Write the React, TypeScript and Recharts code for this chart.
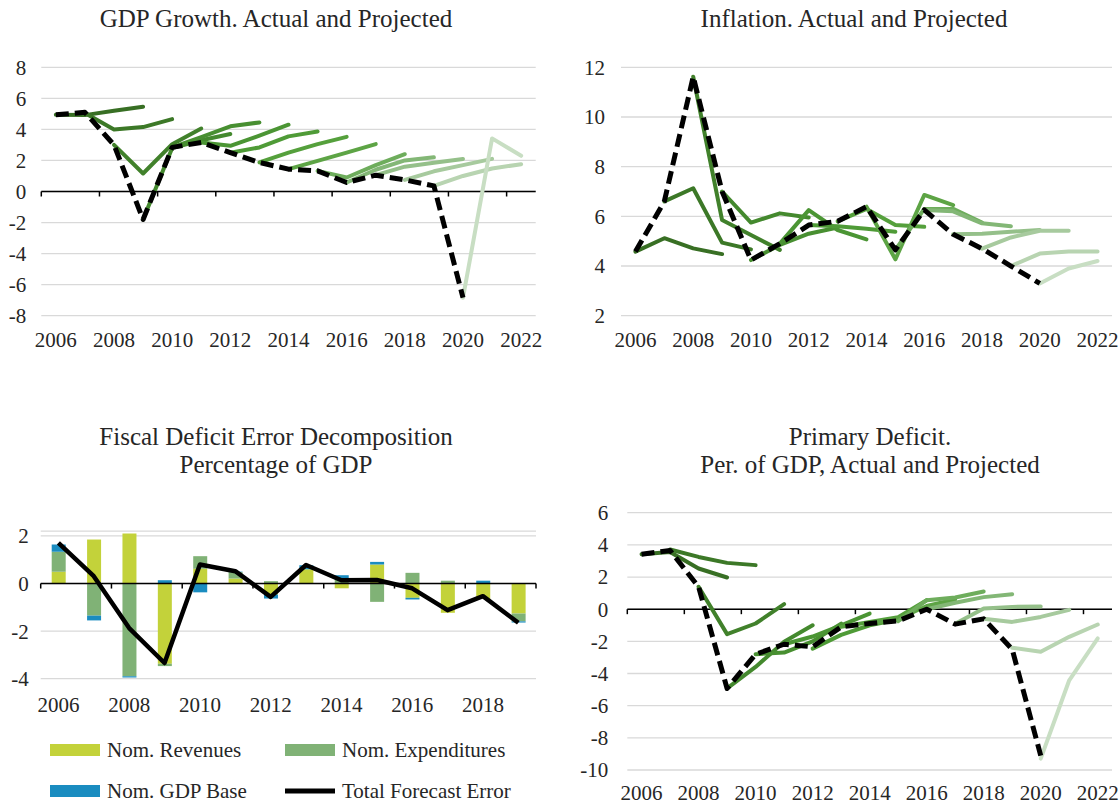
import React from 'react';
import { LineChart, Line, XAxis, YAxis, CartesianGrid, ReferenceLine, ComposedChart, Bar } from 'recharts';

// ---------- DATA ----------
const years = [2006, 2007, 2008, 2009, 2010, 2011, 2012, 2013, 2014, 2015, 2016, 2017, 2018, 2019, 2020, 2021, 2022];
const xLabelYears = [2006, 2008, 2010, 2012, 2014, 2016, 2018, 2020, 2022];

// GDP growth: actual (2006-2020) and projections; projection k starts in years[k]
const gdpActual = [4.94, 5.1, 3.0, -1.8, 2.84, 3.16, 2.5, 1.87, 1.44, 1.33, 0.58, 1.05, 0.75, 0.36, -6.84];
const gdpProjections = [
  [4.94, 4.92, 5.2, 5.46],
  [5.05, 4.0, 4.15, 4.66],
  [3.0, 1.16, 3.05, 4.06],
  [-1.8, 2.8, 3.3, 3.7],
  [2.84, 3.5, 4.2, 4.45],
  [3.16, 2.94, 3.6, 4.3],
  [2.5, 2.84, 3.55, 3.87],
  [1.87, 2.5, 3.05, 3.52],
  [1.44, 1.97, 2.5, 3.05],
  [1.33, 0.9, 1.7, 2.4],
  [0.58, 1.4, 2.0, 2.2],
  [1.05, 1.6, 1.85, 2.1],
  [0.75, 1.3, 1.7, 2.1],
  [0.36, 1.0, 1.48, 1.76],
  [-6.84, 3.42, 2.3],
];
const gdpYTicks = [-8, -6, -4, -2, 0, 2, 4, 6, 8];

// Inflation
const inflationActual = [4.58, 6.6, 11.62, 7.0, 4.24, 4.9, 5.65, 5.8, 6.39, 4.65, 6.26, 5.28, 4.7, 4.0, 3.3];
const inflationProjections = [
  [4.58, 5.12, 4.71, 4.48],
  [6.6, 7.13, 4.94, 4.67],
  [11.62, 5.85, 5.25, 4.65],
  [7.0, 5.75, 6.12, 5.95],
  [4.24, 4.85, 5.3, 5.55],
  [4.9, 6.25, 5.45, 5.07],
  [5.65, 5.6, 5.5, 5.38],
  [5.8, 6.3, 5.65, 5.58],
  [6.39, 4.27, 6.86, 6.45],
  [4.65, 6.3, 6.3, 5.75],
  [6.26, 6.2, 5.72, 5.6],
  [5.28, 5.3, 5.38, 5.45],
  [4.7, 5.15, 5.42, 5.42],
  [4.0, 4.5, 4.58, 4.58],
  [3.3, 3.9, 4.2],
];
const inflationYTicks = [2, 4, 6, 8, 10, 12];

// Primary deficit
const primaryActual = [3.42, 3.65, 1.39, -4.93, -2.8, -2.18, -2.34, -1.1, -0.89, -0.73, 0.0, -0.93, -0.6, -2.5, -9.1];
const primaryProjections = [
  [3.42, 3.56, 2.53, 1.97],
  [3.71, 3.25, 2.88, 2.74],
  [1.39, -1.55, -0.89, 0.31],
  [-4.93, -3.59, -2.03, -1.0],
  [-2.8, -2.7, -2.0, -0.9],
  [-2.18, -1.7, -1.0, -0.27],
  [-2.45, -1.6, -1.0, -0.65],
  [-1.1, -0.8, -0.5, 0.56],
  [-0.89, -0.6, 0.2, 0.6],
  [-0.75, 0.56, 0.73, 1.1],
  [0.0, 0.4, 0.75, 0.93],
  [-0.9, 0.04, 0.14, 0.17],
  [-0.6, -0.79, -0.48, -0.04],
  [-2.4, -2.65, -1.72, -0.95],
  [-9.29, -4.42, -1.82],
];
const primaryYTicks = [-10, -8, -6, -4, -2, 0, 2, 4, 6];

// Fiscal deficit error decomposition
const fiscalYears = [2006, 2007, 2008, 2009, 2010, 2011, 2012, 2013, 2014, 2015, 2016, 2017, 2018, 2019];
const nomRevenues = [0.5, 1.85, 2.1, -3.37, 0.62, 0.21, -0.46, 0.6, -0.2, 0.8, -0.6, -1.23, -0.65, -1.26];
const nomExpenditures = [0.84, -1.35, -3.9, -0.1, 0.53, 0.27, 0.1, 0.0, 0.15, -0.77, 0.45, 0.12, 0.0, -0.33];
const nomGdpBase = [0.3, -0.2, -0.05, 0.14, -0.37, 0.02, -0.17, 0.17, 0.2, 0.11, -0.07, 0.0, 0.12, -0.05];
const totalForecastError = [1.71, 0.31, -1.87, -3.34, 0.8, 0.52, -0.56, 0.78, 0.14, 0.15, -0.2, -1.12, -0.53, -1.65];
const fiscalYTicks = [-4, -2, 0, 2];
const fiscalLegend = ['Nom. Revenues', 'Nom. Expenditures', 'Nom. GDP Base', 'Total Forecast Error'];

// ---------- STYLE ----------
const FONT = '"Liberation Serif", "Times New Roman", serif';
const TEXT = '#262626';
const GRID = '#D9D9D9';
const vintageColors = ['#386F24', '#3C7827', '#41812B', '#44892E', '#488F31', '#4B9534', '#4F9B37', '#55A03C', '#5DA445', '#6EAD5C', '#83B776', '#95C08A', '#A7CA9E', '#B8D4B1', '#C8DEC3'];
const barColors = ['#C3D23A', '#80B276', '#1A8CC0'];
const tickStyle = { fontSize: 21, fill: TEXT, fontFamily: FONT };

function buildRows(yrs: number[], actual: number[], projections: number[][]) {
  return yrs.map((year, i) => {
    const row: any = { year, actual: i < actual.length ? actual[i] : null };
    projections.forEach((p, k) => {
      const off = i - k;
      row['v' + k] = off >= 0 && off < p.length ? p[off] : null;
    });
    return row;
  });
}

function boundaryTicks(yrs: number[]) {
  const out: number[] = [];
  for (let k = 0; k <= yrs.length; k += 2) out.push(yrs[0] - 0.5 + k);
  return out;
}

const gdpRows = buildRows(years, gdpActual, gdpProjections);
const inflationRows = buildRows(years, inflationActual, inflationProjections);
const primaryRows = buildRows(years, primaryActual, primaryProjections);
const fiscalRows = fiscalYears.map((year, i) => ({
  year,
  rev: nomRevenues[i],
  exp: nomExpenditures[i],
  gdp: nomGdpBase[i],
  total: totalForecastError[i],
}));

function Title({ cx, top, lines }: { cx: number; top: number; lines: string[] }) {
  return (
    <div
      style={{
        position: 'absolute',
        left: cx - 300,
        top,
        width: 600,
        textAlign: 'center',
        fontFamily: FONT,
        fontSize: 25,
        lineHeight: '28px',
        color: TEXT,
        whiteSpace: 'nowrap',
      }}
    >
      {lines.map((l) => (
        <div key={l}>{l}</div>
      ))}
    </div>
  );
}

type PanelProps = {
  rows: any[];
  projections: number[][];
  width: number;
  height: number;
  margin: any;
  yWidth: number;
  xHeight: number;
  domain: [number, number];
  yTicks: number[];
  xTickMargin: number;
  yTickMargin: number;
  zeroAxis: boolean;
  plotHeight: number;
};

function VintagePanel(p: PanelProps) {
  const tickLen = (5 * (p.domain[1] - p.domain[0])) / p.plotHeight;
  const marks = boundaryTicks(years);
  return (
    <LineChart width={p.width} height={p.height} data={p.rows} margin={p.margin}>
      <CartesianGrid horizontal vertical={false} stroke={GRID} strokeWidth={1.3} />
      <XAxis
        dataKey="year"
        type="number"
        domain={[years[0] - 0.5, years[years.length - 1] + 0.5]}
        ticks={xLabelYears}
        interval={0}
        axisLine={false}
        tickLine={false}
        tickSize={0}
        tickMargin={p.xTickMargin}
        height={p.xHeight}
        tick={tickStyle}
      />
      <YAxis
        type="number"
        domain={p.domain}
        ticks={p.yTicks}
        interval={0}
        axisLine={false}
        tickLine={false}
        tickSize={0}
        tickMargin={p.yTickMargin}
        width={p.yWidth}
        tick={tickStyle}
      />
      {p.zeroAxis && <ReferenceLine y={0} stroke="#000" strokeWidth={1.5} />}
      {p.zeroAxis &&
        marks.map((t) => (
          <ReferenceLine
            key={'m' + t}
            segment={[{ x: t, y: 0 }, { x: t, y: -tickLen }]}
            stroke="#000"
            strokeWidth={1.5}
            ifOverflow="visible"
          />
        ))}
      {p.projections.map((_, k) => (
        <Line
          key={'v' + k}
          type="linear"
          dataKey={'v' + k}
          stroke={vintageColors[k]}
          strokeWidth={4}
          strokeLinecap="round"
          strokeLinejoin="round"
          dot={false}
          activeDot={false}
          connectNulls={false}
          isAnimationActive={false}
        />
      ))}
      <Line
        type="linear"
        dataKey="actual"
        stroke="#000"
        strokeWidth={5}
        strokeDasharray="13 6"
        strokeLinejoin="round"
        dot={false}
        activeDot={false}
        connectNulls={false}
        isAnimationActive={false}
      />
    </LineChart>
  );
}

function FiscalPanel() {
  const domain: [number, number] = [-4, 2.2];
  const plotHeight = 147.5;
  const tickLen = (5 * (domain[1] - domain[0])) / plotHeight;
  const marks = boundaryTicks(fiscalYears);
  return (
    <ComposedChart
      width={560}
      height={330}
      data={fiscalRows}
      stackOffset="sign"
      barSize={14}
      margin={{ top: 131.2, right: 24, bottom: 11.3, left: 0 }}
    >
      <CartesianGrid horizontal vertical={false} stroke={GRID} strokeWidth={1.3} />
      <XAxis
        dataKey="year"
        type="category"
        interval={1}
        axisLine={false}
        tickLine={false}
        tickSize={0}
        tickMargin={18}
        height={40}
        tick={tickStyle}
      />
      <XAxis
        xAxisId="num"
        dataKey="year"
        type="number"
        domain={[fiscalYears[0] - 0.5, fiscalYears[fiscalYears.length - 1] + 0.5]}
        hide
      />
      <YAxis
        type="number"
        domain={domain}
        ticks={fiscalYTicks}
        interval={0}
        axisLine={false}
        tickLine={false}
        tickSize={0}
        tickMargin={12}
        width={40.7}
        tick={tickStyle}
      />
      <Bar dataKey="rev" stackId="s" fill={barColors[0]} isAnimationActive={false} />
      <Bar dataKey="exp" stackId="s" fill={barColors[1]} isAnimationActive={false} />
      <Bar dataKey="gdp" stackId="s" fill={barColors[2]} isAnimationActive={false} />
      <ReferenceLine y={0} stroke="#000" strokeWidth={1.5} />
      {marks.map((t) => (
        <ReferenceLine
          key={'m' + t}
          xAxisId="num"
          segment={[{ x: t, y: 0 }, { x: t, y: -tickLen }]}
          stroke="#000"
          strokeWidth={1.5}
          ifOverflow="visible"
        />
      ))}
      <Line
        type="linear"
        dataKey="total"
        stroke="#000"
        strokeWidth={4.5}
        strokeLinejoin="round"
        dot={false}
        activeDot={false}
        isAnimationActive={false}
      />
    </ComposedChart>
  );
}

function FiscalLegend() {
  const items = [
    { x: 50, y: 30, kind: 'rect', color: barColors[0], label: fiscalLegend[0] },
    { x: 285, y: 30, kind: 'rect', color: barColors[1], label: fiscalLegend[1] },
    { x: 50, y: 71, kind: 'rect', color: barColors[2], label: fiscalLegend[2] },
    { x: 285, y: 71, kind: 'line', color: '#000', label: fiscalLegend[3] },
  ];
  return (
    <svg width={560} height={85} style={{ position: 'absolute', left: 0, top: 720 }}>
      {items.map((it) => (
        <g key={it.label}>
          {it.kind === 'rect' ? (
            <rect x={it.x} y={it.y - 6} width={50} height={12} fill={it.color} />
          ) : (
            <line x1={it.x} x2={it.x + 50} y1={it.y} y2={it.y} stroke={it.color} strokeWidth={5} />
          )}
          <text x={it.x + 57} y={it.y + 7} fontFamily={FONT} fontSize={21} fill={TEXT}>
            {it.label}
          </text>
        </g>
      ))}
    </svg>
  );
}

export default function App() {
  return (
    <div style={{ position: 'absolute', left: 0, top: 0, width: 1120, height: 805, background: '#fff', overflow: 'hidden' }}>
      <Title cx={276} top={5} lines={['GDP Growth. Actual and Projected']} />
      <Title cx={854} top={5} lines={['Inflation. Actual and Projected']} />
      <Title cx={276} top={423} lines={['Fiscal Deficit Error Decomposition', 'Percentage of GDP']} />
      <Title cx={870} top={423} lines={['Primary Deficit.', 'Per. of GDP, Actual and Projected']} />

      <div style={{ position: 'absolute', left: 0, top: 0 }}>
        <VintagePanel
          rows={gdpRows}
          projections={gdpProjections}
          width={560}
          height={360}
          margin={{ top: 67.3, right: 24.3, bottom: 4.3, left: 0 }}
          yWidth={41.3}
          xHeight={40}
          domain={[-8, 8]}
          yTicks={gdpYTicks}
          xTickMargin={16}
          yTickMargin={15}
          zeroAxis
          plotHeight={248.4}
        />
      </div>
      <div style={{ position: 'absolute', left: 560, top: 0 }}>
        <VintagePanel
          rows={inflationRows}
          projections={inflationProjections}
          width={560}
          height={360}
          margin={{ top: 67.3, right: 8, bottom: 4.3, left: 0 }}
          yWidth={61}
          xHeight={40}
          domain={[2, 12]}
          yTicks={inflationYTicks}
          xTickMargin={16}
          yTickMargin={16}
          zeroAxis={false}
          plotHeight={248.4}
        />
      </div>
      <div style={{ position: 'absolute', left: 0, top: 400 }}>
        <FiscalPanel />
      </div>
      <FiscalLegend />
      <div style={{ position: 'absolute', left: 560, top: 400 }}>
        <VintagePanel
          rows={primaryRows}
          projections={primaryProjections}
          width={560}
          height={405}
          margin={{ top: 112.7, right: 8, bottom: 2, left: 0 }}
          yWidth={67.3}
          xHeight={33}
          domain={[-10, 6]}
          yTicks={primaryYTicks}
          xTickMargin={15}
          yTickMargin={19}
          zeroAxis
          plotHeight={257.3}
        />
      </div>
    </div>
  );
}
